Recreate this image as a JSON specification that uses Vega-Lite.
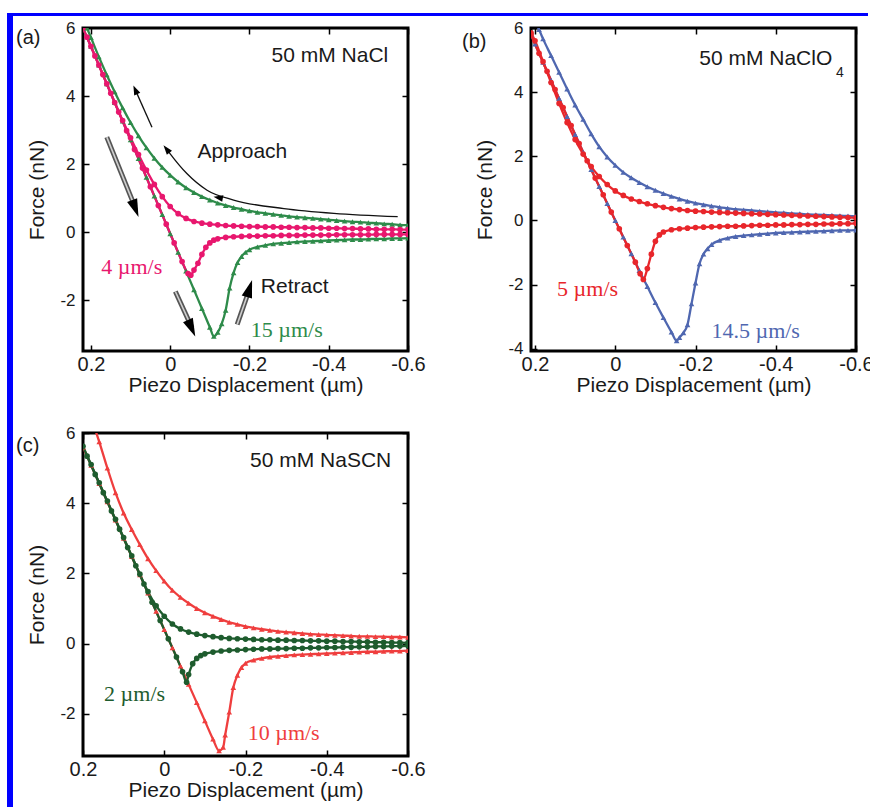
{
"$schema":"https://vega.github.io/schema/vega-lite/v6.json",
"padding":{"left":7,"top":13,"right":0,"bottom":0},
"background":"white",
"config":{
 "font":"Liberation Sans",
 "axis":{"domain":false,"grid":false,"ticks":true,"tickColor":"#000","tickWidth":1.5,"tickSize":-6,"labelFont":"Liberation Sans","titleFont":"Liberation Sans","labelColor":"#1a1a1a","titleColor":"#1a1a1a","titleFontWeight":"normal","labelFlush":false,"labelOverlap":false,"labelBound":false},
 "axisBottom":{"labelFontSize":20,"labelPadding":9,"titleFontSize":21,"titlePadding":0},
 "axisLeft":{"labelFontSize":17,"labelPadding":14,"titleFontSize":21,"titlePadding":12},
 "title":{"fontSize":20,"font":"Liberation Sans","fontWeight":"normal","anchor":"start","frame":"group","offset":0,"baseline":"top","color":"#1a1a1a"}
},
"datasets":{
"a":[
{"s":"15","c":"ap","x":0.21,"y":6.0},{"s":"15","c":"ap","x":0.2,"y":5.72},{"s":"15","c":"ap","x":0.18,"y":5.15},{"s":"15","c":"ap","x":0.16,"y":4.62},{"s":"15","c":"ap","x":0.14,"y":4.12},{"s":"15","c":"ap","x":0.12,"y":3.65},{"s":"15","c":"ap","x":0.1,"y":3.22},{"s":"15","c":"ap","x":0.08,"y":2.83},{"s":"15","c":"ap","x":0.06,"y":2.48},{"s":"15","c":"ap","x":0.04,"y":2.17},{"s":"15","c":"ap","x":0.02,"y":1.9},{"s":"15","c":"ap","x":0,"y":1.67},{"s":"15","c":"ap","x":-0.02,"y":1.47},{"s":"15","c":"ap","x":-0.04,"y":1.3},{"s":"15","c":"ap","x":-0.06,"y":1.16},{"s":"15","c":"ap","x":-0.08,"y":1.04},{"s":"15","c":"ap","x":-0.1,"y":0.94},{"s":"15","c":"ap","x":-0.12,"y":0.85},{"s":"15","c":"ap","x":-0.14,"y":0.78},{"s":"15","c":"ap","x":-0.16,"y":0.72},{"s":"15","c":"ap","x":-0.18,"y":0.67},{"s":"15","c":"ap","x":-0.2,"y":0.62},{"s":"15","c":"ap","x":-0.22,"y":0.58},{"s":"15","c":"ap","x":-0.24,"y":0.55},{"s":"15","c":"ap","x":-0.26,"y":0.52},{"s":"15","c":"ap","x":-0.28,"y":0.49},{"s":"15","c":"ap","x":-0.3,"y":0.46},{"s":"15","c":"ap","x":-0.32,"y":0.44},{"s":"15","c":"ap","x":-0.34,"y":0.42},{"s":"15","c":"ap","x":-0.36,"y":0.4},{"s":"15","c":"ap","x":-0.38,"y":0.38},{"s":"15","c":"ap","x":-0.4,"y":0.36},{"s":"15","c":"ap","x":-0.42,"y":0.34},{"s":"15","c":"ap","x":-0.44,"y":0.32},{"s":"15","c":"ap","x":-0.46,"y":0.3},{"s":"15","c":"ap","x":-0.48,"y":0.29},{"s":"15","c":"ap","x":-0.5,"y":0.27},{"s":"15","c":"ap","x":-0.52,"y":0.26},{"s":"15","c":"ap","x":-0.54,"y":0.24},{"s":"15","c":"ap","x":-0.56,"y":0.23},{"s":"15","c":"ap","x":-0.58,"y":0.21},{"s":"15","c":"ap","x":-0.6,"y":0.2},
{"s":"15","c":"re","x":0.22,"y":6.0},{"s":"15","c":"re","x":0.2,"y":5.46},{"s":"15","c":"re","x":0.18,"y":4.91},{"s":"15","c":"re","x":0.16,"y":4.36},{"s":"15","c":"re","x":0.14,"y":3.81},{"s":"15","c":"re","x":0.12,"y":3.26},{"s":"15","c":"re","x":0.1,"y":2.71},{"s":"15","c":"re","x":0.08,"y":2.16},{"s":"15","c":"re","x":0.06,"y":1.61},{"s":"15","c":"re","x":0.04,"y":1.06},{"s":"15","c":"re","x":0.02,"y":0.51},{"s":"15","c":"re","x":0,"y":-0.05},{"s":"15","c":"re","x":-0.02,"y":-0.6},{"s":"15","c":"re","x":-0.04,"y":-1.15},{"s":"15","c":"re","x":-0.06,"y":-1.7},{"s":"15","c":"re","x":-0.08,"y":-2.25},{"s":"15","c":"re","x":-0.1,"y":-2.8},{"s":"15","c":"re","x":-0.11,"y":-3.07},{"s":"15","c":"re","x":-0.12,"y":-2.95},{"s":"15","c":"re","x":-0.13,"y":-2.7},{"s":"15","c":"re","x":-0.14,"y":-2.3},{"s":"15","c":"re","x":-0.15,"y":-1.65},{"s":"15","c":"re","x":-0.16,"y":-1.2},{"s":"15","c":"re","x":-0.17,"y":-0.9},{"s":"15","c":"re","x":-0.18,"y":-0.72},{"s":"15","c":"re","x":-0.19,"y":-0.6},{"s":"15","c":"re","x":-0.2,"y":-0.52},{"s":"15","c":"re","x":-0.22,"y":-0.44},{"s":"15","c":"re","x":-0.24,"y":-0.39},{"s":"15","c":"re","x":-0.26,"y":-0.35},{"s":"15","c":"re","x":-0.28,"y":-0.33},{"s":"15","c":"re","x":-0.3,"y":-0.31},{"s":"15","c":"re","x":-0.32,"y":-0.29},{"s":"15","c":"re","x":-0.34,"y":-0.28},{"s":"15","c":"re","x":-0.36,"y":-0.27},{"s":"15","c":"re","x":-0.38,"y":-0.26},{"s":"15","c":"re","x":-0.4,"y":-0.25},{"s":"15","c":"re","x":-0.42,"y":-0.24},{"s":"15","c":"re","x":-0.44,"y":-0.23},{"s":"15","c":"re","x":-0.46,"y":-0.22},{"s":"15","c":"re","x":-0.48,"y":-0.22},{"s":"15","c":"re","x":-0.5,"y":-0.21},{"s":"15","c":"re","x":-0.52,"y":-0.2},{"s":"15","c":"re","x":-0.54,"y":-0.2},{"s":"15","c":"re","x":-0.56,"y":-0.19},{"s":"15","c":"re","x":-0.58,"y":-0.19},{"s":"15","c":"re","x":-0.6,"y":-0.18},
{"s":"4","c":"ap","x":0.22,"y":6.0},{"s":"4","c":"ap","x":0.2,"y":5.46},{"s":"4","c":"ap","x":0.18,"y":4.91},{"s":"4","c":"ap","x":0.16,"y":4.36},{"s":"4","c":"ap","x":0.14,"y":3.81},{"s":"4","c":"ap","x":0.12,"y":3.28},{"s":"4","c":"ap","x":0.1,"y":2.77},{"s":"4","c":"ap","x":0.08,"y":2.28},{"s":"4","c":"ap","x":0.06,"y":1.82},{"s":"4","c":"ap","x":0.04,"y":1.4},{"s":"4","c":"ap","x":0.02,"y":1.04},{"s":"4","c":"ap","x":0,"y":0.75},{"s":"4","c":"ap","x":-0.02,"y":0.54},{"s":"4","c":"ap","x":-0.04,"y":0.4},{"s":"4","c":"ap","x":-0.06,"y":0.31},{"s":"4","c":"ap","x":-0.08,"y":0.26},{"s":"4","c":"ap","x":-0.1,"y":0.23},{"s":"4","c":"ap","x":-0.12,"y":0.21},{"s":"4","c":"ap","x":-0.14,"y":0.19},{"s":"4","c":"ap","x":-0.16,"y":0.18},{"s":"4","c":"ap","x":-0.18,"y":0.17},{"s":"4","c":"ap","x":-0.2,"y":0.16},{"s":"4","c":"ap","x":-0.22,"y":0.16},{"s":"4","c":"ap","x":-0.24,"y":0.15},{"s":"4","c":"ap","x":-0.26,"y":0.15},{"s":"4","c":"ap","x":-0.28,"y":0.14},{"s":"4","c":"ap","x":-0.3,"y":0.14},{"s":"4","c":"ap","x":-0.32,"y":0.13},{"s":"4","c":"ap","x":-0.34,"y":0.13},{"s":"4","c":"ap","x":-0.36,"y":0.12},{"s":"4","c":"ap","x":-0.38,"y":0.12},{"s":"4","c":"ap","x":-0.4,"y":0.11},{"s":"4","c":"ap","x":-0.42,"y":0.11},{"s":"4","c":"ap","x":-0.44,"y":0.1},{"s":"4","c":"ap","x":-0.46,"y":0.1},{"s":"4","c":"ap","x":-0.48,"y":0.09},{"s":"4","c":"ap","x":-0.5,"y":0.09},{"s":"4","c":"ap","x":-0.52,"y":0.08},{"s":"4","c":"ap","x":-0.54,"y":0.08},{"s":"4","c":"ap","x":-0.56,"y":0.08},{"s":"4","c":"ap","x":-0.58,"y":0.07},{"s":"4","c":"ap","x":-0.6,"y":0.07},
{"s":"4","c":"re","x":0.21,"y":5.73},{"s":"4","c":"re","x":0.19,"y":5.18},{"s":"4","c":"re","x":0.17,"y":4.63},{"s":"4","c":"re","x":0.15,"y":4.08},{"s":"4","c":"re","x":0.13,"y":3.53},{"s":"4","c":"re","x":0.11,"y":2.98},{"s":"4","c":"re","x":0.09,"y":2.43},{"s":"4","c":"re","x":0.07,"y":1.88},{"s":"4","c":"re","x":0.05,"y":1.33},{"s":"4","c":"re","x":0.03,"y":0.78},{"s":"4","c":"re","x":0.01,"y":0.23},{"s":"4","c":"re","x":-0.01,"y":-0.32},{"s":"4","c":"re","x":-0.03,"y":-0.87},{"s":"4","c":"re","x":-0.045,"y":-1.22},{"s":"4","c":"re","x":-0.052,"y":-1.27},{"s":"4","c":"re","x":-0.06,"y":-1.12},{"s":"4","c":"re","x":-0.07,"y":-0.92},{"s":"4","c":"re","x":-0.08,"y":-0.66},{"s":"4","c":"re","x":-0.09,"y":-0.45},{"s":"4","c":"re","x":-0.1,"y":-0.32},{"s":"4","c":"re","x":-0.11,"y":-0.24},{"s":"4","c":"re","x":-0.12,"y":-0.2},{"s":"4","c":"re","x":-0.14,"y":-0.16},{"s":"4","c":"re","x":-0.16,"y":-0.14},{"s":"4","c":"re","x":-0.18,"y":-0.13},{"s":"4","c":"re","x":-0.2,"y":-0.12},{"s":"4","c":"re","x":-0.22,"y":-0.12},{"s":"4","c":"re","x":-0.24,"y":-0.11},{"s":"4","c":"re","x":-0.26,"y":-0.11},{"s":"4","c":"re","x":-0.28,"y":-0.1},{"s":"4","c":"re","x":-0.3,"y":-0.1},{"s":"4","c":"re","x":-0.32,"y":-0.1},{"s":"4","c":"re","x":-0.34,"y":-0.09},{"s":"4","c":"re","x":-0.36,"y":-0.09},{"s":"4","c":"re","x":-0.38,"y":-0.09},{"s":"4","c":"re","x":-0.4,"y":-0.09},{"s":"4","c":"re","x":-0.42,"y":-0.08},{"s":"4","c":"re","x":-0.44,"y":-0.08},{"s":"4","c":"re","x":-0.46,"y":-0.08},{"s":"4","c":"re","x":-0.48,"y":-0.08},{"s":"4","c":"re","x":-0.5,"y":-0.08},{"s":"4","c":"re","x":-0.52,"y":-0.07},{"s":"4","c":"re","x":-0.54,"y":-0.07},{"s":"4","c":"re","x":-0.56,"y":-0.07},{"s":"4","c":"re","x":-0.58,"y":-0.07},{"s":"4","c":"re","x":-0.6,"y":-0.07}
],
"b":[
{"s":"14.5","c":"ap","x":0.2,"y":6.2},{"s":"14.5","c":"ap","x":0.19,"y":5.95},{"s":"14.5","c":"ap","x":0.18,"y":5.66},{"s":"14.5","c":"ap","x":0.16,"y":5.14},{"s":"14.5","c":"ap","x":0.14,"y":4.62},{"s":"14.5","c":"ap","x":0.12,"y":4.1},{"s":"14.5","c":"ap","x":0.1,"y":3.6},{"s":"14.5","c":"ap","x":0.08,"y":3.15},{"s":"14.5","c":"ap","x":0.06,"y":2.7},{"s":"14.5","c":"ap","x":0.04,"y":2.3},{"s":"14.5","c":"ap","x":0.02,"y":1.98},{"s":"14.5","c":"ap","x":0,"y":1.72},{"s":"14.5","c":"ap","x":-0.02,"y":1.5},{"s":"14.5","c":"ap","x":-0.04,"y":1.33},{"s":"14.5","c":"ap","x":-0.06,"y":1.18},{"s":"14.5","c":"ap","x":-0.08,"y":1.05},{"s":"14.5","c":"ap","x":-0.1,"y":0.94},{"s":"14.5","c":"ap","x":-0.12,"y":0.84},{"s":"14.5","c":"ap","x":-0.14,"y":0.75},{"s":"14.5","c":"ap","x":-0.16,"y":0.67},{"s":"14.5","c":"ap","x":-0.18,"y":0.6},{"s":"14.5","c":"ap","x":-0.2,"y":0.54},{"s":"14.5","c":"ap","x":-0.22,"y":0.49},{"s":"14.5","c":"ap","x":-0.24,"y":0.45},{"s":"14.5","c":"ap","x":-0.26,"y":0.41},{"s":"14.5","c":"ap","x":-0.28,"y":0.38},{"s":"14.5","c":"ap","x":-0.3,"y":0.35},{"s":"14.5","c":"ap","x":-0.32,"y":0.33},{"s":"14.5","c":"ap","x":-0.34,"y":0.31},{"s":"14.5","c":"ap","x":-0.36,"y":0.29},{"s":"14.5","c":"ap","x":-0.38,"y":0.27},{"s":"14.5","c":"ap","x":-0.4,"y":0.25},{"s":"14.5","c":"ap","x":-0.42,"y":0.24},{"s":"14.5","c":"ap","x":-0.44,"y":0.22},{"s":"14.5","c":"ap","x":-0.46,"y":0.21},{"s":"14.5","c":"ap","x":-0.48,"y":0.19},{"s":"14.5","c":"ap","x":-0.5,"y":0.18},{"s":"14.5","c":"ap","x":-0.52,"y":0.17},{"s":"14.5","c":"ap","x":-0.54,"y":0.16},{"s":"14.5","c":"ap","x":-0.56,"y":0.15},{"s":"14.5","c":"ap","x":-0.58,"y":0.14},{"s":"14.5","c":"ap","x":-0.6,"y":0.13},
{"s":"14.5","c":"re","x":0.21,"y":5.8},{"s":"14.5","c":"re","x":0.2,"y":5.5},{"s":"14.5","c":"re","x":0.18,"y":4.93},{"s":"14.5","c":"re","x":0.16,"y":4.37},{"s":"14.5","c":"re","x":0.14,"y":3.8},{"s":"14.5","c":"re","x":0.12,"y":3.24},{"s":"14.5","c":"re","x":0.1,"y":2.68},{"s":"14.5","c":"re","x":0.08,"y":2.13},{"s":"14.5","c":"re","x":0.06,"y":1.59},{"s":"14.5","c":"re","x":0.04,"y":1.06},{"s":"14.5","c":"re","x":0.02,"y":0.53},{"s":"14.5","c":"re","x":0,"y":0},{"s":"14.5","c":"re","x":-0.02,"y":-0.52},{"s":"14.5","c":"re","x":-0.04,"y":-1.04},{"s":"14.5","c":"re","x":-0.06,"y":-1.56},{"s":"14.5","c":"re","x":-0.08,"y":-2.06},{"s":"14.5","c":"re","x":-0.1,"y":-2.56},{"s":"14.5","c":"re","x":-0.12,"y":-3.03},{"s":"14.5","c":"re","x":-0.14,"y":-3.48},{"s":"14.5","c":"re","x":-0.153,"y":-3.75},{"s":"14.5","c":"re","x":-0.16,"y":-3.65},{"s":"14.5","c":"re","x":-0.17,"y":-3.5},{"s":"14.5","c":"re","x":-0.18,"y":-3.25},{"s":"14.5","c":"re","x":-0.19,"y":-2.6},{"s":"14.5","c":"re","x":-0.2,"y":-1.95},{"s":"14.5","c":"re","x":-0.21,"y":-1.35},{"s":"14.5","c":"re","x":-0.22,"y":-1.05},{"s":"14.5","c":"re","x":-0.23,"y":-0.88},{"s":"14.5","c":"re","x":-0.24,"y":-0.75},{"s":"14.5","c":"re","x":-0.26,"y":-0.62},{"s":"14.5","c":"re","x":-0.28,"y":-0.55},{"s":"14.5","c":"re","x":-0.3,"y":-0.5},{"s":"14.5","c":"re","x":-0.32,"y":-0.47},{"s":"14.5","c":"re","x":-0.34,"y":-0.45},{"s":"14.5","c":"re","x":-0.36,"y":-0.43},{"s":"14.5","c":"re","x":-0.38,"y":-0.41},{"s":"14.5","c":"re","x":-0.4,"y":-0.39},{"s":"14.5","c":"re","x":-0.42,"y":-0.38},{"s":"14.5","c":"re","x":-0.44,"y":-0.37},{"s":"14.5","c":"re","x":-0.46,"y":-0.36},{"s":"14.5","c":"re","x":-0.48,"y":-0.35},{"s":"14.5","c":"re","x":-0.5,"y":-0.34},{"s":"14.5","c":"re","x":-0.52,"y":-0.33},{"s":"14.5","c":"re","x":-0.54,"y":-0.32},{"s":"14.5","c":"re","x":-0.56,"y":-0.31},{"s":"14.5","c":"re","x":-0.58,"y":-0.31},{"s":"14.5","c":"re","x":-0.6,"y":-0.3},
{"s":"5","c":"ap","x":0.21,"y":5.85},{"s":"5","c":"ap","x":0.2,"y":5.6},{"s":"5","c":"ap","x":0.18,"y":4.95},{"s":"5","c":"ap","x":0.16,"y":4.3},{"s":"5","c":"ap","x":0.14,"y":3.65},{"s":"5","c":"ap","x":0.12,"y":3.05},{"s":"5","c":"ap","x":0.1,"y":2.52},{"s":"5","c":"ap","x":0.08,"y":2.07},{"s":"5","c":"ap","x":0.06,"y":1.68},{"s":"5","c":"ap","x":0.04,"y":1.37},{"s":"5","c":"ap","x":0.02,"y":1.12},{"s":"5","c":"ap","x":0,"y":0.92},{"s":"5","c":"ap","x":-0.02,"y":0.78},{"s":"5","c":"ap","x":-0.04,"y":0.67},{"s":"5","c":"ap","x":-0.06,"y":0.59},{"s":"5","c":"ap","x":-0.08,"y":0.52},{"s":"5","c":"ap","x":-0.1,"y":0.46},{"s":"5","c":"ap","x":-0.12,"y":0.41},{"s":"5","c":"ap","x":-0.14,"y":0.37},{"s":"5","c":"ap","x":-0.16,"y":0.34},{"s":"5","c":"ap","x":-0.18,"y":0.31},{"s":"5","c":"ap","x":-0.2,"y":0.29},{"s":"5","c":"ap","x":-0.22,"y":0.28},{"s":"5","c":"ap","x":-0.24,"y":0.26},{"s":"5","c":"ap","x":-0.26,"y":0.25},{"s":"5","c":"ap","x":-0.28,"y":0.24},{"s":"5","c":"ap","x":-0.3,"y":0.23},{"s":"5","c":"ap","x":-0.32,"y":0.22},{"s":"5","c":"ap","x":-0.34,"y":0.21},{"s":"5","c":"ap","x":-0.36,"y":0.2},{"s":"5","c":"ap","x":-0.38,"y":0.19},{"s":"5","c":"ap","x":-0.4,"y":0.18},{"s":"5","c":"ap","x":-0.42,"y":0.17},{"s":"5","c":"ap","x":-0.44,"y":0.16},{"s":"5","c":"ap","x":-0.46,"y":0.15},{"s":"5","c":"ap","x":-0.48,"y":0.14},{"s":"5","c":"ap","x":-0.5,"y":0.13},{"s":"5","c":"ap","x":-0.52,"y":0.12},{"s":"5","c":"ap","x":-0.54,"y":0.11},{"s":"5","c":"ap","x":-0.56,"y":0.1},{"s":"5","c":"ap","x":-0.58,"y":0.09},{"s":"5","c":"ap","x":-0.6,"y":0.08},
{"s":"5","c":"re","x":0.21,"y":5.8},{"s":"5","c":"re","x":0.19,"y":5.21},{"s":"5","c":"re","x":0.17,"y":4.65},{"s":"5","c":"re","x":0.15,"y":4.08},{"s":"5","c":"re","x":0.13,"y":3.52},{"s":"5","c":"re","x":0.11,"y":2.96},{"s":"5","c":"re","x":0.09,"y":2.4},{"s":"5","c":"re","x":0.07,"y":1.86},{"s":"5","c":"re","x":0.05,"y":1.32},{"s":"5","c":"re","x":0.03,"y":0.8},{"s":"5","c":"re","x":0.01,"y":0.26},{"s":"5","c":"re","x":-0.01,"y":-0.26},{"s":"5","c":"re","x":-0.03,"y":-0.78},{"s":"5","c":"re","x":-0.05,"y":-1.3},{"s":"5","c":"re","x":-0.062,"y":-1.66},{"s":"5","c":"re","x":-0.07,"y":-1.84},{"s":"5","c":"re","x":-0.08,"y":-1.5},{"s":"5","c":"re","x":-0.09,"y":-1.05},{"s":"5","c":"re","x":-0.1,"y":-0.65},{"s":"5","c":"re","x":-0.11,"y":-0.45},{"s":"5","c":"re","x":-0.12,"y":-0.36},{"s":"5","c":"re","x":-0.14,"y":-0.29},{"s":"5","c":"re","x":-0.16,"y":-0.26},{"s":"5","c":"re","x":-0.18,"y":-0.24},{"s":"5","c":"re","x":-0.2,"y":-0.22},{"s":"5","c":"re","x":-0.22,"y":-0.21},{"s":"5","c":"re","x":-0.24,"y":-0.2},{"s":"5","c":"re","x":-0.26,"y":-0.19},{"s":"5","c":"re","x":-0.28,"y":-0.18},{"s":"5","c":"re","x":-0.3,"y":-0.18},{"s":"5","c":"re","x":-0.32,"y":-0.17},{"s":"5","c":"re","x":-0.34,"y":-0.16},{"s":"5","c":"re","x":-0.36,"y":-0.15},{"s":"5","c":"re","x":-0.38,"y":-0.15},{"s":"5","c":"re","x":-0.4,"y":-0.14},{"s":"5","c":"re","x":-0.42,"y":-0.14},{"s":"5","c":"re","x":-0.44,"y":-0.13},{"s":"5","c":"re","x":-0.46,"y":-0.13},{"s":"5","c":"re","x":-0.48,"y":-0.12},{"s":"5","c":"re","x":-0.5,"y":-0.12},{"s":"5","c":"re","x":-0.52,"y":-0.11},{"s":"5","c":"re","x":-0.54,"y":-0.11},{"s":"5","c":"re","x":-0.56,"y":-0.1},{"s":"5","c":"re","x":-0.58,"y":-0.1},{"s":"5","c":"re","x":-0.6,"y":-0.09}
],
"c":[
{"s":"10","c":"ap","x":0.17,"y":6.1},{"s":"10","c":"ap","x":0.16,"y":5.75},{"s":"10","c":"ap","x":0.14,"y":5.0},{"s":"10","c":"ap","x":0.12,"y":4.3},{"s":"10","c":"ap","x":0.1,"y":3.72},{"s":"10","c":"ap","x":0.08,"y":3.25},{"s":"10","c":"ap","x":0.06,"y":2.82},{"s":"10","c":"ap","x":0.04,"y":2.42},{"s":"10","c":"ap","x":0.02,"y":2.08},{"s":"10","c":"ap","x":0,"y":1.78},{"s":"10","c":"ap","x":-0.02,"y":1.52},{"s":"10","c":"ap","x":-0.04,"y":1.32},{"s":"10","c":"ap","x":-0.06,"y":1.15},{"s":"10","c":"ap","x":-0.08,"y":1.0},{"s":"10","c":"ap","x":-0.1,"y":0.88},{"s":"10","c":"ap","x":-0.12,"y":0.78},{"s":"10","c":"ap","x":-0.14,"y":0.69},{"s":"10","c":"ap","x":-0.16,"y":0.61},{"s":"10","c":"ap","x":-0.18,"y":0.55},{"s":"10","c":"ap","x":-0.2,"y":0.49},{"s":"10","c":"ap","x":-0.22,"y":0.45},{"s":"10","c":"ap","x":-0.24,"y":0.41},{"s":"10","c":"ap","x":-0.26,"y":0.38},{"s":"10","c":"ap","x":-0.28,"y":0.35},{"s":"10","c":"ap","x":-0.3,"y":0.33},{"s":"10","c":"ap","x":-0.32,"y":0.31},{"s":"10","c":"ap","x":-0.34,"y":0.29},{"s":"10","c":"ap","x":-0.36,"y":0.27},{"s":"10","c":"ap","x":-0.38,"y":0.26},{"s":"10","c":"ap","x":-0.4,"y":0.25},{"s":"10","c":"ap","x":-0.42,"y":0.24},{"s":"10","c":"ap","x":-0.44,"y":0.23},{"s":"10","c":"ap","x":-0.46,"y":0.22},{"s":"10","c":"ap","x":-0.48,"y":0.21},{"s":"10","c":"ap","x":-0.5,"y":0.21},{"s":"10","c":"ap","x":-0.52,"y":0.2},{"s":"10","c":"ap","x":-0.54,"y":0.2},{"s":"10","c":"ap","x":-0.56,"y":0.19},{"s":"10","c":"ap","x":-0.58,"y":0.19},{"s":"10","c":"ap","x":-0.6,"y":0.18},
{"s":"10","c":"re","x":0.2,"y":5.6},{"s":"10","c":"re","x":0.18,"y":5.08},{"s":"10","c":"re","x":0.16,"y":4.56},{"s":"10","c":"re","x":0.14,"y":4.04},{"s":"10","c":"re","x":0.12,"y":3.52},{"s":"10","c":"re","x":0.1,"y":3.0},{"s":"10","c":"re","x":0.08,"y":2.48},{"s":"10","c":"re","x":0.06,"y":1.96},{"s":"10","c":"re","x":0.04,"y":1.44},{"s":"10","c":"re","x":0.02,"y":0.92},{"s":"10","c":"re","x":0,"y":0.4},{"s":"10","c":"re","x":-0.02,"y":-0.12},{"s":"10","c":"re","x":-0.04,"y":-0.64},{"s":"10","c":"re","x":-0.06,"y":-1.16},{"s":"10","c":"re","x":-0.08,"y":-1.68},{"s":"10","c":"re","x":-0.1,"y":-2.2},{"s":"10","c":"re","x":-0.12,"y":-2.72},{"s":"10","c":"re","x":-0.135,"y":-3.05},{"s":"10","c":"re","x":-0.145,"y":-2.95},{"s":"10","c":"re","x":-0.15,"y":-2.6},{"s":"10","c":"re","x":-0.16,"y":-1.95},{"s":"10","c":"re","x":-0.17,"y":-1.25},{"s":"10","c":"re","x":-0.18,"y":-0.9},{"s":"10","c":"re","x":-0.19,"y":-0.68},{"s":"10","c":"re","x":-0.2,"y":-0.56},{"s":"10","c":"re","x":-0.22,"y":-0.47},{"s":"10","c":"re","x":-0.24,"y":-0.42},{"s":"10","c":"re","x":-0.26,"y":-0.38},{"s":"10","c":"re","x":-0.28,"y":-0.36},{"s":"10","c":"re","x":-0.3,"y":-0.34},{"s":"10","c":"re","x":-0.32,"y":-0.32},{"s":"10","c":"re","x":-0.34,"y":-0.31},{"s":"10","c":"re","x":-0.36,"y":-0.3},{"s":"10","c":"re","x":-0.38,"y":-0.29},{"s":"10","c":"re","x":-0.4,"y":-0.28},{"s":"10","c":"re","x":-0.42,"y":-0.27},{"s":"10","c":"re","x":-0.44,"y":-0.26},{"s":"10","c":"re","x":-0.46,"y":-0.25},{"s":"10","c":"re","x":-0.48,"y":-0.24},{"s":"10","c":"re","x":-0.5,"y":-0.23},{"s":"10","c":"re","x":-0.52,"y":-0.23},{"s":"10","c":"re","x":-0.54,"y":-0.22},{"s":"10","c":"re","x":-0.56,"y":-0.21},{"s":"10","c":"re","x":-0.58,"y":-0.21},{"s":"10","c":"re","x":-0.6,"y":-0.2},
{"s":"2","c":"ap","x":0.2,"y":5.62},{"s":"2","c":"ap","x":0.18,"y":5.1},{"s":"2","c":"ap","x":0.16,"y":4.58},{"s":"2","c":"ap","x":0.14,"y":4.06},{"s":"2","c":"ap","x":0.12,"y":3.54},{"s":"2","c":"ap","x":0.1,"y":3.02},{"s":"2","c":"ap","x":0.08,"y":2.5},{"s":"2","c":"ap","x":0.06,"y":1.98},{"s":"2","c":"ap","x":0.04,"y":1.48},{"s":"2","c":"ap","x":0.02,"y":1.08},{"s":"2","c":"ap","x":0,"y":0.78},{"s":"2","c":"ap","x":-0.02,"y":0.56},{"s":"2","c":"ap","x":-0.04,"y":0.42},{"s":"2","c":"ap","x":-0.06,"y":0.33},{"s":"2","c":"ap","x":-0.08,"y":0.27},{"s":"2","c":"ap","x":-0.1,"y":0.23},{"s":"2","c":"ap","x":-0.12,"y":0.2},{"s":"2","c":"ap","x":-0.14,"y":0.17},{"s":"2","c":"ap","x":-0.16,"y":0.15},{"s":"2","c":"ap","x":-0.18,"y":0.14},{"s":"2","c":"ap","x":-0.2,"y":0.13},{"s":"2","c":"ap","x":-0.22,"y":0.12},{"s":"2","c":"ap","x":-0.24,"y":0.11},{"s":"2","c":"ap","x":-0.26,"y":0.11},{"s":"2","c":"ap","x":-0.28,"y":0.1},{"s":"2","c":"ap","x":-0.3,"y":0.1},{"s":"2","c":"ap","x":-0.32,"y":0.09},{"s":"2","c":"ap","x":-0.34,"y":0.09},{"s":"2","c":"ap","x":-0.36,"y":0.08},{"s":"2","c":"ap","x":-0.38,"y":0.08},{"s":"2","c":"ap","x":-0.4,"y":0.07},{"s":"2","c":"ap","x":-0.42,"y":0.07},{"s":"2","c":"ap","x":-0.44,"y":0.06},{"s":"2","c":"ap","x":-0.46,"y":0.06},{"s":"2","c":"ap","x":-0.48,"y":0.05},{"s":"2","c":"ap","x":-0.5,"y":0.05},{"s":"2","c":"ap","x":-0.52,"y":0.04},{"s":"2","c":"ap","x":-0.54,"y":0.04},{"s":"2","c":"ap","x":-0.56,"y":0.03},{"s":"2","c":"ap","x":-0.58,"y":0.03},{"s":"2","c":"ap","x":-0.6,"y":0.02},
{"s":"2","c":"re","x":0.19,"y":5.34},{"s":"2","c":"re","x":0.17,"y":4.82},{"s":"2","c":"re","x":0.15,"y":4.3},{"s":"2","c":"re","x":0.13,"y":3.78},{"s":"2","c":"re","x":0.11,"y":3.26},{"s":"2","c":"re","x":0.09,"y":2.74},{"s":"2","c":"re","x":0.07,"y":2.22},{"s":"2","c":"re","x":0.05,"y":1.7},{"s":"2","c":"re","x":0.03,"y":1.18},{"s":"2","c":"re","x":0.01,"y":0.66},{"s":"2","c":"re","x":-0.01,"y":0.14},{"s":"2","c":"re","x":-0.03,"y":-0.38},{"s":"2","c":"re","x":-0.045,"y":-0.8},{"s":"2","c":"re","x":-0.055,"y":-1.1},{"s":"2","c":"re","x":-0.06,"y":-0.88},{"s":"2","c":"re","x":-0.07,"y":-0.57},{"s":"2","c":"re","x":-0.08,"y":-0.42},{"s":"2","c":"re","x":-0.09,"y":-0.34},{"s":"2","c":"re","x":-0.1,"y":-0.29},{"s":"2","c":"re","x":-0.12,"y":-0.24},{"s":"2","c":"re","x":-0.14,"y":-0.21},{"s":"2","c":"re","x":-0.16,"y":-0.19},{"s":"2","c":"re","x":-0.18,"y":-0.18},{"s":"2","c":"re","x":-0.2,"y":-0.17},{"s":"2","c":"re","x":-0.22,"y":-0.16},{"s":"2","c":"re","x":-0.24,"y":-0.15},{"s":"2","c":"re","x":-0.26,"y":-0.15},{"s":"2","c":"re","x":-0.28,"y":-0.14},{"s":"2","c":"re","x":-0.3,"y":-0.14},{"s":"2","c":"re","x":-0.32,"y":-0.13},{"s":"2","c":"re","x":-0.34,"y":-0.13},{"s":"2","c":"re","x":-0.36,"y":-0.12},{"s":"2","c":"re","x":-0.38,"y":-0.12},{"s":"2","c":"re","x":-0.4,"y":-0.11},{"s":"2","c":"re","x":-0.42,"y":-0.11},{"s":"2","c":"re","x":-0.44,"y":-0.1},{"s":"2","c":"re","x":-0.46,"y":-0.1},{"s":"2","c":"re","x":-0.48,"y":-0.09},{"s":"2","c":"re","x":-0.5,"y":-0.09},{"s":"2","c":"re","x":-0.52,"y":-0.08},{"s":"2","c":"re","x":-0.54,"y":-0.08},{"s":"2","c":"re","x":-0.56,"y":-0.07},{"s":"2","c":"re","x":-0.58,"y":-0.07},{"s":"2","c":"re","x":-0.6,"y":-0.06}
]
},
"spacing":0,
"resolve":{"scale":{"color":"independent","shape":"independent"}},
"hconcat":[
{"width":6,"height":794,"view":{"fill":"#0000ff","stroke":null},"data":{"values":[]},"mark":"rect","encoding":{}},
{"spacing":1,"resolve":{"scale":{"color":"independent","shape":"independent"}},"vconcat":[
 {"width":855,"height":3,"view":{"fill":"#0000ff","stroke":null},"data":{"values":[]},"mark":"rect","encoding":{}},
 {"spacing":0,"resolve":{"scale":{"color":"independent","shape":"independent"}},"hconcat":[
 {"width":1,"height":1,"view":{"fill":null,"stroke":null},"data":{"values":[]},"mark":"rect","encoding":{}},
 {"spacing":25,"resolve":{"scale":{"color":"independent","shape":"independent"}},"vconcat":[
  {"spacing":33,"resolve":{"scale":{"color":"independent","shape":"independent"}},"hconcat":[
   {"width":325,"height":323,"title":{"text":"(a)","dx":-67,"dy":33},"view":{"stroke":"#000","strokeWidth":3},
    "resolve":{"axis":{"x":"independent","y":"independent"}},
    "layer":[
     {"data":{"name":"a"},"mark":{"type":"line","interpolate":"monotone","strokeWidth":2.3,"clip":true},
      "encoding":{
       "x":{"field":"x","type":"quantitative","scale":{"domain":[-0.6,0.22],"reverse":true,"nice":false,"zero":false},"axis":{"orient":"bottom","values":[0.2,0,-0.2,-0.4,-0.6],"format":"~g","labelExpr":"replace(datum.label,'−','-')","title":"Piezo Displacement (µm)"}},
       "y":{"field":"y","type":"quantitative","scale":{"domain":[-3.5,6],"nice":false,"zero":false},"axis":{"orient":"left","values":[-2,0,2,4,6],"format":"~g","labelExpr":"replace(datum.label,'−','-')","title":"Force (nN)"}},
       "color":{"field":"s","type":"nominal","scale":{"domain":["4","15"],"range":["#e8176e","#2e8b4a"]},"legend":null},
       "detail":{"field":"c"}}},
     {"data":{"name":"a"},"mark":{"type":"point","filled":true,"size":32,"opacity":1,"clip":true},
      "encoding":{
       "x":{"field":"x","type":"quantitative","axis":{"orient":"top","values":[0.2,0,-0.2,-0.4,-0.6],"labels":false,"title":null}},
       "y":{"field":"y","type":"quantitative","axis":{"orient":"right","values":[-2,0,2,4,6],"labels":false,"title":null}},
       "color":{"field":"s","type":"nominal","legend":null},
       "shape":{"field":"s","type":"nominal","scale":{"domain":["4","15"],"range":["circle","triangle-up"]},"legend":null}}},
     {"data":{"values":[{"x":-0.403,"y":5.18,"t":"50 mM NaCl"},{"x":-0.182,"y":2.34,"t":"Approach"},{"x":-0.314,"y":-1.61,"t":"Retract"}]},
      "mark":{"type":"text","fontSize":21,"font":"Liberation Sans","color":"#1a1a1a","align":"center","baseline":"middle"},
      "encoding":{"x":{"field":"x","type":"quantitative","axis":null},"y":{"field":"y","type":"quantitative","axis":null},"text":{"field":"t"}}},
     {"data":{"values":[{"x":0.097,"y":-1.02,"t":"4 µm/s","s":"4"},{"x":-0.294,"y":-2.87,"t":"15 µm/s","s":"15"}]},
      "mark":{"type":"text","fontSize":22,"font":"Liberation Serif","align":"center","baseline":"middle"},
      "encoding":{"x":{"field":"x","type":"quantitative","axis":null},"y":{"field":"y","type":"quantitative","axis":null},"text":{"field":"t"},"color":{"field":"s","type":"nominal","legend":null}}},
     {"data":{"values":[{"g":1,"x":-0.574,"y":0.45},{"g":1,"x":-0.413,"y":0.55},{"g":1,"x":-0.287,"y":0.69},{"g":1,"x":-0.16,"y":0.94},{"g":1,"x":-0.093,"y":1.23},{"g":1,"x":-0.042,"y":1.72},{"g":1,"x":0.0,"y":2.3},{"g":1,"x":0.009,"y":2.44},{"g":2,"x":0.046,"y":3.08},{"g":2,"x":0.088,"y":4.18}]},
      "mark":{"type":"line","color":"#111","strokeWidth":1.3,"interpolate":"monotone"},
      "encoding":{"x":{"field":"x","type":"quantitative","axis":null},"y":{"field":"y","type":"quantitative","axis":null},"detail":{"field":"g"}}},
     {"data":{"values":[{"g":1,"x":0.16,"y":2.79},{"g":1,"x":0.089,"y":0.74},{"g":2,"x":-0.013,"y":-1.75},{"g":2,"x":-0.055,"y":-2.82},{"g":3,"x":-0.169,"y":-2.72},{"g":3,"x":-0.198,"y":-1.75}]},
      "mark":{"type":"line","color":"#555","strokeWidth":5},
      "encoding":{"x":{"field":"x","type":"quantitative","axis":null},"y":{"field":"y","type":"quantitative","axis":null},"detail":{"field":"g"}}},
     {"data":{"values":[{"g":1,"x":0.16,"y":2.79},{"g":1,"x":0.089,"y":0.74},{"g":2,"x":-0.013,"y":-1.75},{"g":2,"x":-0.055,"y":-2.82},{"g":3,"x":-0.169,"y":-2.72},{"g":3,"x":-0.198,"y":-1.75}]},
      "mark":{"type":"line","color":"#cfcfcf","strokeWidth":1.6},
      "encoding":{"x":{"field":"x","type":"quantitative","axis":null},"y":{"field":"y","type":"quantitative","axis":null},"detail":{"field":"g"}}},
     {"data":{"values":[{"x":0.088,"y":0.69}]},"mark":{"type":"point","shape":"M0,-1L0.6,1L-0.6,1Z","filled":true,"color":"#000","opacity":1,"size":320,"angle":159},
      "encoding":{"x":{"field":"x","type":"quantitative","axis":null},"y":{"field":"y","type":"quantitative","axis":null}}},
     {"data":{"values":[{"x":-0.054,"y":-2.83}]},"mark":{"type":"point","shape":"M0,-1L0.6,1L-0.6,1Z","filled":true,"color":"#000","opacity":1,"size":320,"angle":156},
      "encoding":{"x":{"field":"x","type":"quantitative","axis":null},"y":{"field":"y","type":"quantitative","axis":null}}},
     {"data":{"values":[{"x":-0.2,"y":-1.66}]},"mark":{"type":"point","shape":"M0,-1L0.6,1L-0.6,1Z","filled":true,"color":"#000","opacity":1,"size":320,"angle":17},
      "encoding":{"x":{"field":"x","type":"quantitative","axis":null},"y":{"field":"y","type":"quantitative","axis":null}}},
     {"data":{"values":[{"x":-0.121,"y":1.01}]},"mark":{"type":"point","shape":"M0,-1L0.7,1L-0.7,1Z","filled":true,"color":"#000","opacity":1,"size":90,"angle":281},
      "encoding":{"x":{"field":"x","type":"quantitative","axis":null},"y":{"field":"y","type":"quantitative","axis":null}}},
     {"data":{"values":[{"x":0.0094,"y":2.44}]},"mark":{"type":"point","shape":"M0,-1L0.7,1L-0.7,1Z","filled":true,"color":"#000","opacity":1,"size":90,"angle":321},
      "encoding":{"x":{"field":"x","type":"quantitative","axis":null},"y":{"field":"y","type":"quantitative","axis":null}}},
     {"data":{"values":[{"x":0.088,"y":4.18}]},"mark":{"type":"point","shape":"M0,-1L0.7,1L-0.7,1Z","filled":true,"color":"#000","opacity":1,"size":90,"angle":336},
      "encoding":{"x":{"field":"x","type":"quantitative","axis":null},"y":{"field":"y","type":"quantitative","axis":null}}}
    ]},
   {"width":325,"height":323,"title":{"text":"(b)","dx":-69,"dy":37},"view":{"stroke":"#000","strokeWidth":3},
    "resolve":{"axis":{"x":"independent","y":"independent"}},
    "layer":[
     {"data":{"name":"b"},"mark":{"type":"line","interpolate":"monotone","strokeWidth":2.3,"clip":true},
      "encoding":{
       "x":{"field":"x","type":"quantitative","scale":{"domain":[-0.6,0.21],"reverse":true,"nice":false,"zero":false},"axis":{"orient":"bottom","values":[0.2,0,-0.2,-0.4,-0.6],"format":"~g","labelExpr":"replace(datum.label,'−','-')","title":"Piezo Displacement (µm)"}},
       "y":{"field":"y","type":"quantitative","scale":{"domain":[-4.07,6.0],"nice":false,"zero":false},"axis":{"orient":"left","values":[-4,-2,0,2,4,6],"format":"~g","labelExpr":"replace(datum.label,'−','-')","title":"Force (nN)"}},
       "color":{"field":"s","type":"nominal","scale":{"domain":["5","14.5"],"range":["#e8262b","#4f67b0"]},"legend":null},
       "detail":{"field":"c"}}},
     {"data":{"name":"b"},"mark":{"type":"point","filled":true,"size":32,"opacity":1,"clip":true},
      "encoding":{
       "x":{"field":"x","type":"quantitative","axis":{"orient":"top","values":[0.2,0,-0.2,-0.4,-0.6],"labels":false,"title":null}},
       "y":{"field":"y","type":"quantitative","axis":{"orient":"right","values":[-4,-2,0,2,4,6],"labels":false,"title":null}},
       "color":{"field":"s","type":"nominal","legend":null},
       "shape":{"field":"s","type":"nominal","scale":{"domain":["5","14.5"],"range":["circle","triangle-up"]},"legend":null}}},
     {"data":{"values":[{"x":-0.375,"y":5.03,"t":"50 mM NaClO"}]},
      "mark":{"type":"text","fontSize":21,"font":"Liberation Sans","color":"#1a1a1a","align":"center","baseline":"middle"},
      "encoding":{"x":{"field":"x","type":"quantitative","axis":null},"y":{"field":"y","type":"quantitative","axis":null},"text":{"field":"t"}}},
     {"data":{"values":[{"x":-0.56,"y":4.6,"t":"4"}]},
      "mark":{"type":"text","fontSize":14,"font":"Liberation Sans","color":"#1a1a1a","align":"center","baseline":"middle"},
      "encoding":{"x":{"field":"x","type":"quantitative","axis":null},"y":{"field":"y","type":"quantitative","axis":null},"text":{"field":"t"}}},
     {"data":{"values":[{"x":0.069,"y":-2.14,"t":"5 µm/s","s":"5"},{"x":-0.35,"y":-3.45,"t":"14.5 µm/s","s":"14.5"}]},
      "mark":{"type":"text","fontSize":22,"font":"Liberation Serif","align":"center","baseline":"middle"},
      "encoding":{"x":{"field":"x","type":"quantitative","axis":null},"y":{"field":"y","type":"quantitative","axis":null},"text":{"field":"t"},"color":{"field":"s","type":"nominal","legend":null}}}
    ]}
  ]},
  {"width":325,"height":323,"title":{"text":"(c)","dx":-67,"dy":36},"view":{"stroke":"#000","strokeWidth":3},
   "resolve":{"axis":{"x":"independent","y":"independent"}},
   "layer":[
    {"data":{"name":"c"},"mark":{"type":"line","interpolate":"monotone","strokeWidth":2.3,"clip":true},
     "encoding":{
      "x":{"field":"x","type":"quantitative","scale":{"domain":[-0.6,0.2],"reverse":true,"nice":false,"zero":false},"axis":{"orient":"bottom","values":[0.2,0,-0.2,-0.4,-0.6],"format":"~g","labelExpr":"replace(datum.label,'−','-')","title":"Piezo Displacement (µm)"}},
      "y":{"field":"y","type":"quantitative","scale":{"domain":[-3.2,6],"nice":false,"zero":false},"axis":{"orient":"left","values":[-2,0,2,4,6],"format":"~g","labelExpr":"replace(datum.label,'−','-')","title":"Force (nN)"}},
      "color":{"field":"s","type":"nominal","scale":{"domain":["2","10"],"range":["#1e5c2e","#ef3e3e"]},"legend":null},
      "detail":{"field":"c"}}},
    {"data":{"name":"c"},"mark":{"type":"point","filled":true,"size":32,"opacity":1,"clip":true},
     "encoding":{
      "x":{"field":"x","type":"quantitative","axis":{"orient":"top","values":[0.2,0,-0.2,-0.4,-0.6],"labels":false,"title":null}},
      "y":{"field":"y","type":"quantitative","axis":{"orient":"right","values":[-2,0,2,4,6],"labels":false,"title":null}},
      "color":{"field":"s","type":"nominal","legend":null},
      "shape":{"field":"s","type":"nominal","scale":{"domain":["2","10"],"range":["circle","triangle-up"]},"legend":null}}},
    {"data":{"values":[{"x":-0.385,"y":5.19,"t":"50 mM NaSCN"}]},
     "mark":{"type":"text","fontSize":21,"font":"Liberation Sans","color":"#1a1a1a","align":"center","baseline":"middle"},
     "encoding":{"x":{"field":"x","type":"quantitative","axis":null},"y":{"field":"y","type":"quantitative","axis":null},"text":{"field":"t"}}},
    {"data":{"values":[{"x":0.073,"y":-1.42,"t":"2 µm/s","s":"2"},{"x":-0.294,"y":-2.55,"t":"10 µm/s","s":"10"}]},
     "mark":{"type":"text","fontSize":22,"font":"Liberation Serif","align":"center","baseline":"middle"},
     "encoding":{"x":{"field":"x","type":"quantitative","axis":null},"y":{"field":"y","type":"quantitative","axis":null},"text":{"field":"t"},"color":{"field":"s","type":"nominal","legend":null}}}
   ]}
 ]}
 ]}
]},
{"width":1,"height":794,"view":{"fill":"#0000ff","stroke":null},"data":{"values":[]},"mark":"rect","encoding":{}}
]
}
